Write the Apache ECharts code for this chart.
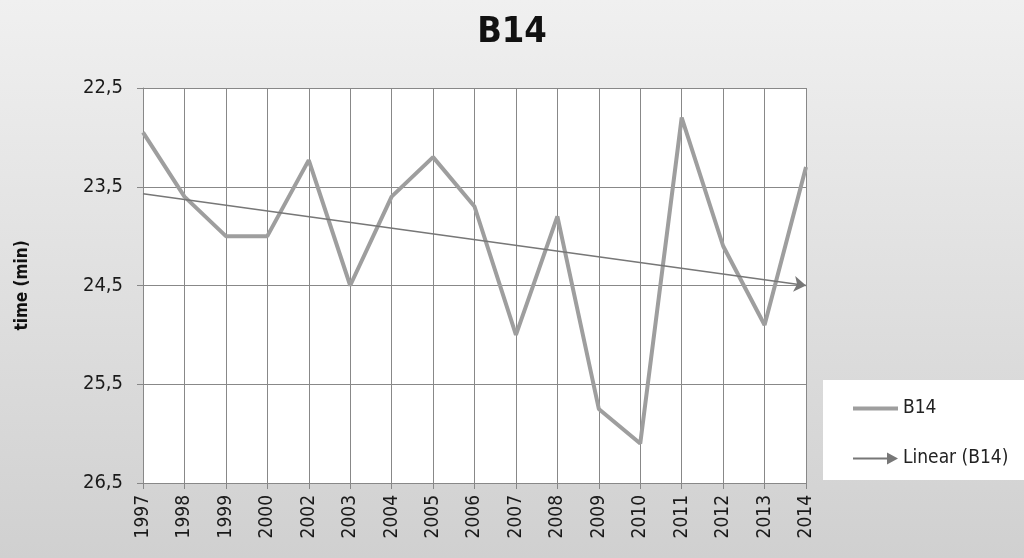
<!DOCTYPE html>
<html>
<head>
<meta charset="utf-8">
<script src="https://cdn.jsdelivr.net/npm/echarts@6/dist/echarts.min.js"></script>
<style>
  html, body { margin: 0; padding: 0; background: #fff; }
  #chart { width: 1024px; height: 558px; }
</style>
</head>
<body>
<div id="chart"></div>
<script>
// years on the x axis (no 2001 in the source)
var years = ["1997", "1998", "1999", "2000", "2002", "2003", "2004", "2005", "2006",
             "2007", "2008", "2009", "2010", "2011", "2012", "2013", "2014"];
// time (min)
var b14 = [22.95, 23.6, 24.0, 24.0, 23.23, 24.5, 23.6, 23.2, 23.7,
           25.0, 23.8, 25.75, 26.1, 22.8, 24.1, 24.9, 23.3];
// trend line end points (Linear (B14))
var trendStart = 23.57;
var trendEnd = 24.5;
var yTicks = [22.5, 23.5, 24.5, 25.5, 26.5];

var fontFamily = "'Liberation Sans Narrow', 'DejaVu Sans Condensed', sans-serif";

var chart = echarts.init(document.getElementById("chart"));

var option = {
    backgroundColor: {
        type: "linear", x: 0, y: 0, x2: 0, y2: 1,
        colorStops: [
            { offset: 0, color: "#f0f0f0" },
            { offset: 1, color: "#d0d0d0" }
        ]
    },
    textStyle: { fontFamily: fontFamily },
    title: {
        text: "B14",
        left: "center",
        top: 10,
        textStyle: { fontSize: 36, fontWeight: "bold", color: "#111", fontFamily: fontFamily }
    },
    graphic: [
        // white legend box
        { type: "rect", left: 823, top: 380, z: -1, shape: { width: 201, height: 100 }, style: { fill: "#fff" } }
    ],
    legend: [
        {
            data: ["B14"],
            left: 848, top: 394,
            icon: "rect",
            itemWidth: 45, itemHeight: 4,
            textStyle: { fontSize: 19, color: "#222", fontFamily: fontFamily }
        },
        {
            data: ["Linear (B14)"],
            left: 848, top: 444,
            icon: "path://M0,5 L34,5 L34,0 L45,6 L34,12 L34,7 L0,7 Z",
            itemWidth: 45, itemHeight: 12,
            textStyle: { fontSize: 19, color: "#222", fontFamily: fontFamily }
        }
    ],
    grid: {
        left: 143, right: 218, top: 88, bottom: 75,
        show: true, backgroundColor: "#fff", borderWidth: 0
    },
    xAxis: {
        type: "category",
        boundaryGap: false,
        data: years,
        axisLine: { show: true, lineStyle: { color: "#888" } },
        axisTick: { show: true, length: 6, lineStyle: { color: "#888" } },
        axisLabel: { rotate: 90, fontSize: 19, color: "#1a1a1a", margin: 12, interval: 0 },
        splitLine: { show: true, lineStyle: { color: "#888" } }
    },
    yAxis: {
        type: "value",
        inverse: true,
        min: 22.5,
        max: 26.5,
        name: "time (min)",
        nameLocation: "middle",
        nameGap: 112,
        nameTextStyle: { fontSize: 17, fontWeight: "bold", color: "#111" },
        axisLine: { show: true, lineStyle: { color: "#888" } },
        axisTick: { show: true, length: 6, customValues: yTicks, lineStyle: { color: "#888" } },
        axisLabel: {
            customValues: yTicks,
            fontSize: 20,
            color: "#1a1a1a",
            margin: 20,
            formatter: function (v) { return v.toFixed(1).replace(".", ","); }
        },
        splitLine: { show: true, lineStyle: { color: "#888" } }
    },
    series: [
        {
            name: "B14",
            type: "line",
            data: b14,
            showSymbol: false,
            itemStyle: { color: "#9e9e9e" },
            lineStyle: { color: "#9e9e9e", width: 4 },
            z: 3
        },
        {
            name: "Linear (B14)",
            type: "line",
            data: [],
            itemStyle: { color: "#777" },
            lineStyle: { color: "#777", width: 1.5 },
            markLine: {
                silent: true,
                symbol: ["none", "arrow"],
                symbolSize: 12,
                label: { show: false },
                lineStyle: { color: "#777", width: 1.5, type: "solid" },
                data: [[
                    { coord: [years[0], trendStart] },
                    { coord: [years[years.length - 1], trendEnd] }
                ]]
            },
            z: 4
        }
    ]
};

chart.setOption(option);
</script>
</body>
</html>
